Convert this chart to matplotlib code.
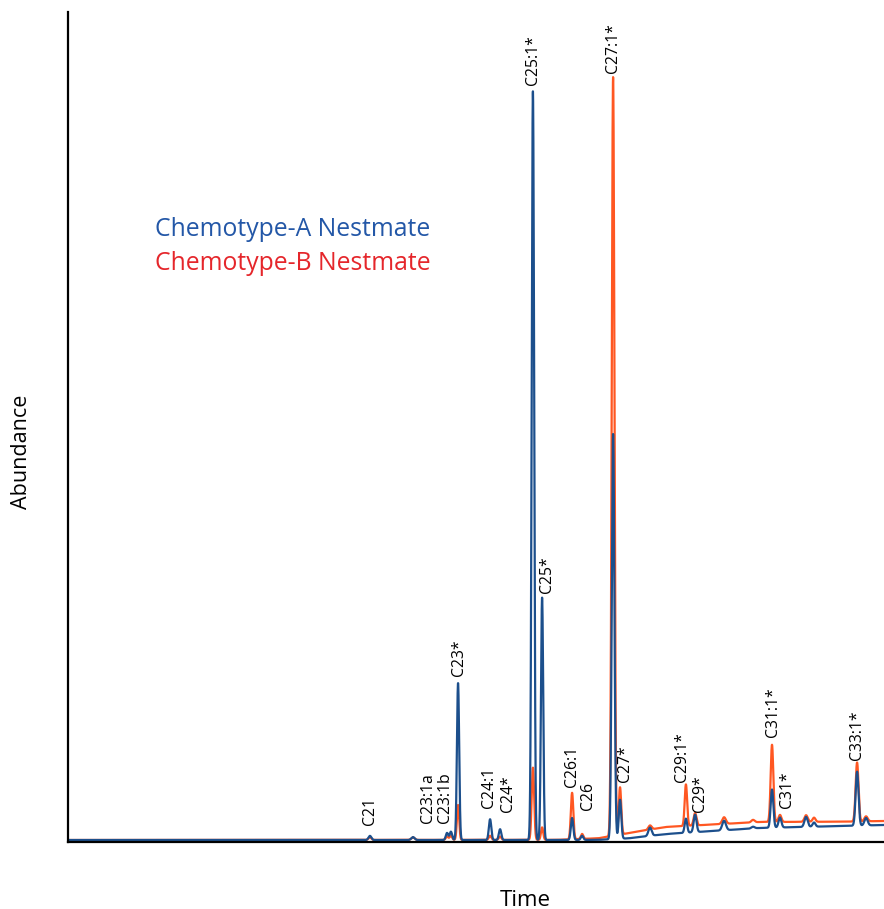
import numpy as np
import matplotlib
matplotlib.use("Agg")
import matplotlib.pyplot as plt

plt.rcParams['font.family'] = ['Open Sans', 'DejaVu Sans']

# --- peak table (retention time in min, heights in abundance units) ---
peak_time = [14.80, 16.91, 18.58, 18.77, 19.12, 20.69, 21.18, 22.79, 23.24,
             24.71, 25.20, 26.72, 27.06, 28.53, 30.29, 30.74, 32.16, 33.58,
             34.51, 34.90, 36.18, 36.57, 38.68, 39.12]
peak_width = [0.07, 0.08, 0.06, 0.06, 0.055, 0.06, 0.06, 0.06, 0.055,
              0.06, 0.06, 0.065, 0.06, 0.08, 0.06, 0.07, 0.09, 0.08,
              0.065, 0.07, 0.08, 0.07, 0.07, 0.08]
height_a = [0.5, 0.35, 0.85, 1.0, 18.9, 2.5, 1.3, 90.2, 29.2,
            2.65, 0.5, 48.8, 4.7, 1.0, 1.7, 2.1, 1.15, 0.2,
            4.6, 1.2, 1.2, 0.5, 6.5, 0.9]
height_b = [0.3, 0.3, 0.4, 0.5, 4.2, 0.5, 0.4, 8.7, 1.5,
            5.6, 0.6, 91.4, 5.7, 0.5, 5.0, 1.5, 0.8, 0.3,
            9.3, 0.85, 0.8, 0.5, 7.1, 0.6]

# baseline drift
base_time = [0.0, 24.0, 26.0, 27.5, 29.3, 33.9, 38.0, 40.0]
base_a = [0.24, 0.24, 0.26, 0.45, 0.96, 1.69, 1.93, 2.05]
base_b = [0.24, 0.26, 0.45, 1.08, 1.81, 2.41, 2.45, 2.53]

# --- compound labels ---
label_text = ["C21", "C23:1a", "C23:1b", "C23*", "C24:1", "C24*", "C25:1*",
              "C25*", "C26:1", "C26", "C27:1*", "C27*", "C29:1*", "C29*",
              "C31:1*", "C31*", "C33:1*"]
label_time = [14.80, 17.65, 18.48, 19.17, 20.64, 21.57, 22.79, 23.48, 24.71,
              25.49, 26.72, 27.30, 30.10, 30.98, 34.56, 35.25, 38.68]
label_y = [2.05, 2.29, 2.29, 20.0, 4.1, 3.6, 91.2, 30.0, 6.6,
           3.86, 92.65, 7.23, 7.23, 3.6, 12.65, 4.1, 9.88]

t = np.linspace(0, 40, 16001)


def trace(heights, base):
    y = np.interp(t, base_time, base)
    for t0, w, h in zip(peak_time, peak_width, heights):
        y = y + h * np.exp(-0.5 * ((t - t0) / w) ** 2)
    return y


fig = plt.figure(figsize=(8.84, 9.09), dpi=100)
ax = fig.add_axes([68 / 884, 67 / 909, 816 / 884, 830 / 909])

ax.plot(t, trace(height_b, base_b), color="#ff5722", lw=1.6)
ax.plot(t, trace(height_a, base_a), color="#1c4f8c", lw=1.6)

for txt, lt, ly in zip(label_text, label_time, label_y):
    ax.text(lt, ly, txt, rotation=90, ha="center", va="bottom", fontsize=11.3)

ax.set_xlim(0, 40)
ax.set_ylim(0, 100)
ax.set_xticks([])
ax.set_yticks([])
for s in ["top", "right"]:
    ax.spines[s].set_visible(False)
for s in ["left", "bottom"]:
    ax.spines[s].set_linewidth(1.6)

fig.text(155 / 884, 1 - 230 / 909, "Chemotype-A Nestmate", color="#2357a7",
         fontsize=17.8, va="center", ha="left")
fig.text(155 / 884, 1 - 263 / 909, "Chemotype-B Nestmate", color="#e5262b",
         fontsize=17.8, va="center", ha="left")
fig.text(22 / 884, 1 - 452 / 909, "Abundance", rotation=90, fontsize=15.5,
         ha="center", va="center")
fig.text(525 / 884, 1 - 900 / 909, "Time", fontsize=16, ha="center", va="center")

fig.savefig("out.png", dpi=100)
